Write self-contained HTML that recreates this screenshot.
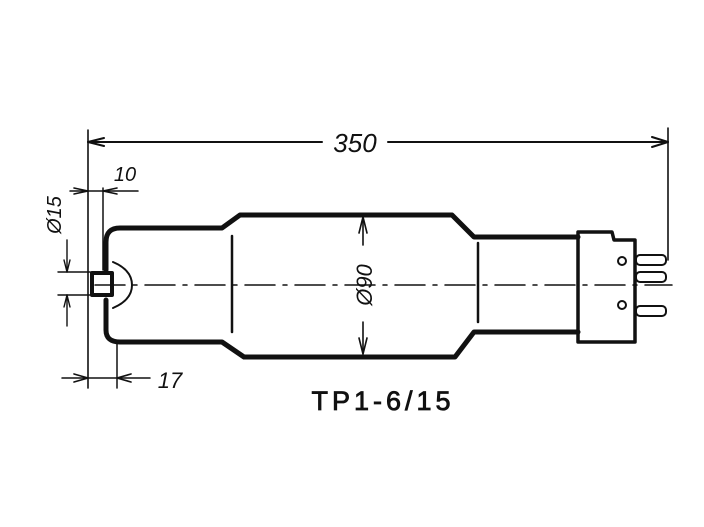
<html><body style="margin:0;background:#fff">
<svg width="704" height="527" xmlns="http://www.w3.org/2000/svg" style="display:block">
<rect width="704" height="527" fill="#fff"/>
<g stroke="#111" fill="none" stroke-linecap="round" stroke-linejoin="round">
<!-- 350 dim -->
<line x1="88" y1="142" x2="322" y2="142" stroke-width="2"/>
<line x1="388" y1="142" x2="668" y2="142" stroke-width="2"/>
<line x1="88" y1="130" x2="88" y2="388" stroke-width="1.6"/>
<line x1="668" y1="128" x2="668" y2="260" stroke-width="1.6"/>
<path d="M88 142 L104 138 M88 142 L104 146 M668 142 L652 137 M668 142 L652 147" stroke-width="2"/>
<!-- tube outline -->
<path d="M106 270 L106 242 Q106 228 120 228 L222 228 L240 215 L452 215 L474 237 L578 237 M578 332 L474 332 L455 357 L244 357 L222 342 L120 342 Q106 342 106 330 L106 300" stroke-width="5"/>
<!-- base -->
<path d="M578 232 L612 232 L614 240 L635 240 L635 342 L578 342 Z" stroke-width="3.5"/>
<!-- pins -->
<g stroke-width="2"><rect x="636" y="255" width="30" height="10" rx="4"/><rect x="636" y="272" width="30" height="10" rx="4"/><rect x="636" y="306" width="30" height="10" rx="4"/></g>
<circle cx="622" cy="261" r="4" stroke-width="2"/><circle cx="622" cy="305" r="4" stroke-width="2"/>
<!-- cap -->
<rect x="92" y="273" width="20" height="22" stroke-width="4"/>
<path d="M113 262 Q132 270 132 285 Q132 300 113 308" stroke-width="2"/>
<!-- inner lines -->
<line x1="232" y1="236" x2="232" y2="332" stroke-width="2.5"/>
<line x1="478" y1="243" x2="478" y2="322" stroke-width="2.5"/>
<!-- centerline -->
<line x1="95" y1="285" x2="672" y2="285" stroke-width="1.5" stroke-dasharray="30 8 4 8"/>
<!-- Ø90 -->
<line x1="363" y1="218" x2="363" y2="245" stroke-width="1.6"/>
<line x1="363" y1="322" x2="363" y2="353" stroke-width="1.6"/>
<path d="M363 217 L359 233 M363 217 L367 233 M363 354 L359 338 M363 354 L367 338" stroke-width="1.6"/>
<!-- 10 -->
<line x1="70" y1="191" x2="138" y2="191" stroke-width="1.5"/>
<line x1="103" y1="188" x2="103" y2="270" stroke-width="1.5"/>
<path d="M88 191 L74 188 M88 191 L74 194 M103 191 L117 188 M103 191 L117 194" stroke-width="1.6"/>
<!-- Ø15 -->
<line x1="58" y1="272" x2="90" y2="272" stroke-width="1.4"/>
<line x1="58" y1="295" x2="90" y2="295" stroke-width="1.4"/>
<line x1="67" y1="240" x2="67" y2="272" stroke-width="1.4"/>
<line x1="67" y1="295" x2="67" y2="326" stroke-width="1.4"/>
<path d="M67 272 L64 260 M67 272 L70 260 M67 295 L64 307 M67 295 L70 307" stroke-width="1.4"/>
<!-- 17 -->
<line x1="62" y1="378" x2="150" y2="378" stroke-width="1.5"/>
<line x1="117" y1="343" x2="117" y2="388" stroke-width="1.5"/>
<path d="M88 378 L74 374 M88 378 L74 382 M117 378 L131 374 M117 378 L131 382" stroke-width="1.6"/>
</g>
<g font-family="Liberation Sans, sans-serif" fill="#111" font-style="italic">
<text x="355" y="152" font-size="26" text-anchor="middle">350</text>
<text x="125" y="181" font-size="20" text-anchor="middle">10</text>
<text x="170" y="388" font-size="22" text-anchor="middle">17</text>
<text transform="translate(372,285) rotate(-90)" font-size="22" text-anchor="middle">Ø90</text>
<text transform="translate(61,215) rotate(-90)" font-size="20" text-anchor="middle">Ø15</text>
</g>
<text x="383" y="410" font-family="Liberation Sans, sans-serif" font-size="27" letter-spacing="4" text-anchor="middle" fill="#111" stroke="#111" stroke-width="0.8">TP1-6/15</text>
</svg>
</body></html>
